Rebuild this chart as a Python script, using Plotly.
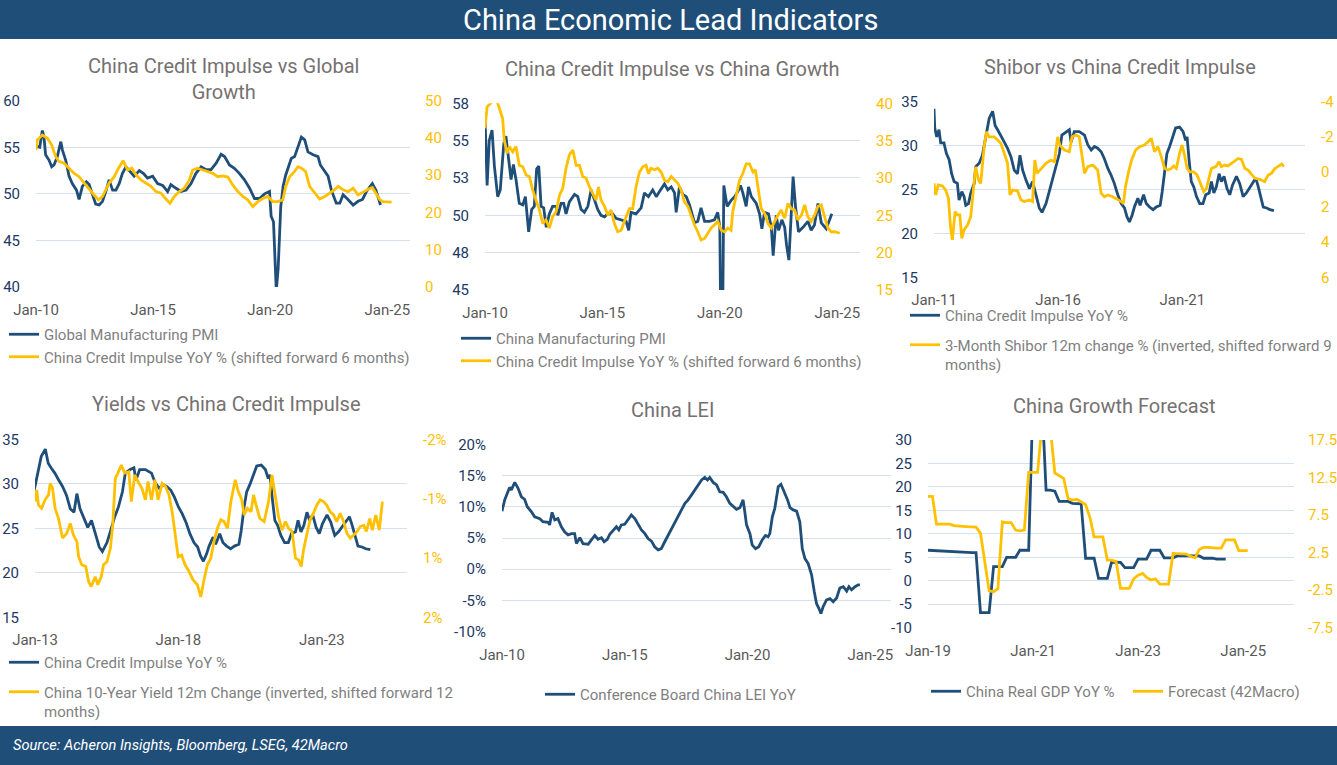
import pandas as pd
import plotly.graph_objects as go

# ---------------- DATA ----------------
# Panel 1: China Credit Impulse vs Global Growth
p1_pmi_t = [2010.0, 2010.16, 2010.27, 2010.34, 2010.41, 2010.56, 2010.67, 2010.77, 2010.91, 2011.06, 2011.13, 2011.27,
            2011.41, 2011.55, 2011.73, 2011.84, 2011.98, 2012.15, 2012.27, 2012.38, 2012.55, 2012.70, 2012.84, 2012.98,
            2013.12, 2013.27, 2013.41, 2013.55, 2013.69, 2013.84, 2014.01, 2014.19, 2014.41, 2014.58, 2014.76, 2014.98,
            2015.19, 2015.41, 2015.62, 2015.76, 2015.98, 2016.19, 2016.41, 2016.62, 2016.83, 2017.05, 2017.26, 2017.47,
            2017.69, 2017.90, 2018.05, 2018.26, 2018.47, 2018.68, 2018.90, 2019.12, 2019.33, 2019.54, 2019.76, 2019.97,
            2020.04, 2020.14, 2020.26, 2020.34, 2020.45, 2020.55, 2020.66, 2020.78, 2020.90, 2021.04, 2021.18, 2021.33,
            2021.47, 2021.61, 2021.83, 2022.04, 2022.14, 2022.33, 2022.47, 2022.61, 2022.82, 2022.97, 2023.11, 2023.32,
            2023.54, 2023.75, 2023.94, 2024.11, 2024.28, 2024.36, 2024.51, 2024.61, 2024.71]
p1_pmi_v = [55.1, 55.0, 56.8, 56.1, 54.2, 53.6, 52.9, 53.1, 54.0, 55.6, 54.7, 53.6,
            51.9, 51.1, 50.4, 49.4, 50.8, 51.3, 51.0, 50.1, 48.9, 48.8, 49.2, 50.25,
            51.5, 50.4, 50.4, 51.1, 52.2, 52.9, 52.4, 51.9, 52.5, 52.2, 51.7, 51.9,
            51.1, 50.9, 50.25, 51.0, 50.6, 50.25, 50.4, 51.1, 52.2, 52.9, 52.6, 52.6,
            53.3, 54.25, 54.0, 53.1, 52.75, 52.2, 51.5, 50.6, 49.5, 49.5, 50.0, 50.25,
            47.6, 47.0, 39.6, 42.0, 48.6, 50.8, 52.0, 52.9, 53.8, 54.0, 55.1, 56.1,
            55.8, 54.5, 54.2, 54.0, 53.1, 52.4, 51.9, 50.4, 49.0, 49.0, 49.9, 49.4,
            48.8, 49.2, 49.4, 50.25, 50.8, 51.1, 50.4, 49.7, 48.8]
p1_ci_t = [2010.0, 2010.06, 2010.27, 2010.49, 2010.67, 2010.84, 2010.98, 2011.2, 2011.41, 2011.63, 2011.84, 2012.05,
           2012.27, 2012.48, 2012.67, 2012.84, 2012.98, 2013.12, 2013.34, 2013.52, 2013.72, 2013.91, 2014.09, 2014.27,
           2014.48, 2014.69, 2014.91, 2015.12, 2015.34, 2015.55, 2015.72, 2015.91, 2016.12, 2016.33, 2016.55, 2016.69,
           2016.90, 2017.12, 2017.33, 2017.55, 2017.76, 2017.97, 2018.19, 2018.40, 2018.62, 2018.83, 2019.04, 2019.26,
           2019.47, 2019.69, 2019.90, 2020.11, 2020.33, 2020.54, 2020.66, 2020.83, 2021.04, 2021.18, 2021.33, 2021.51,
           2021.68, 2021.90, 2022.11, 2022.33, 2022.54, 2022.75, 2022.90, 2023.11, 2023.32, 2023.54, 2023.75, 2023.97,
           2024.18, 2024.36, 2024.54, 2024.68, 2024.82, 2024.99, 2025.18]
p1_ci_v = [36.8, 39.5, 40.8, 39.9, 38.1, 35.0, 33.7, 33.2, 31.9, 30.5, 29.6, 27.9,
           26.1, 24.7, 23.4, 24.3, 26.1, 27.9, 29.6, 31.9, 33.9, 31.4, 31.9, 30.1,
           28.75, 27.9, 27.0, 25.6, 25.2, 23.6, 22.5, 24.3, 25.6, 26.5, 28.75, 31.4,
           31.9, 31.4, 31.0, 30.5, 29.6, 29.8, 29.5, 27.4, 25.6, 24.3, 23.4, 21.6,
           22.9, 23.8, 24.3, 22.9, 22.9, 23.4, 27.0, 29.6, 31.0, 32.3, 31.9, 31.0,
           27.0, 25.2, 23.6, 24.3, 25.2, 26.1, 27.0, 26.1, 25.6, 26.5, 24.7, 25.6,
           26.25, 26.7, 24.7, 23.4, 22.9, 22.9, 22.8]

# Panel 2: China Credit Impulse vs China Growth
p2_pmi_t = [2010.0, 2010.09, 2010.18, 2010.30, 2010.40, 2010.54, 2010.65, 2010.80, 2010.89, 2010.99, 2011.11, 2011.21,
            2011.32, 2011.46, 2011.61, 2011.72, 2011.86, 2011.99, 2012.10, 2012.20, 2012.29, 2012.39, 2012.50, 2012.61,
            2012.74, 2012.88, 2013.03, 2013.10, 2013.24, 2013.35, 2013.45, 2013.59, 2013.81, 2013.95, 2014.09, 2014.23,
            2014.38, 2014.52, 2014.66, 2014.80, 2014.94, 2015.09, 2015.23, 2015.44, 2015.58, 2015.80, 2016.01, 2016.12,
            2016.22, 2016.43, 2016.65, 2016.79, 2016.96, 2017.14, 2017.29, 2017.43, 2017.64, 2017.78, 2017.93, 2018.07,
            2018.14, 2018.28, 2018.42, 2018.57, 2018.71, 2018.92, 2019.06, 2019.20, 2019.35, 2019.56, 2019.77, 2019.91,
            2020.0, 2020.08, 2020.17, 2020.31, 2020.48, 2020.63, 2020.77, 2020.88, 2020.98, 2021.12, 2021.22, 2021.34,
            2021.55, 2021.69, 2021.79, 2021.90, 2022.07, 2022.19, 2022.27, 2022.40, 2022.50, 2022.64, 2022.76, 2022.84,
            2022.94, 2023.04, 2023.12, 2023.22, 2023.35, 2023.54, 2023.75, 2023.89, 2024.03, 2024.18, 2024.32, 2024.53,
            2024.67, 2024.77]
p2_pmi_v = [56.6, 52.0, 55.0, 55.7, 53.3, 51.25, 51.7, 54.8, 55.3, 53.9, 52.4, 53.4,
            52.4, 50.8, 50.7, 51.25, 48.9, 50.4, 50.6, 53.1, 53.3, 50.6, 50.5, 49.2,
            50.1, 50.6, 50.6, 50.0, 50.8, 50.8, 50.1, 50.9, 51.4, 51.25, 50.4, 50.2,
            50.6, 51.7, 51.0, 50.4, 50.0, 49.9, 50.1, 50.1, 49.8, 49.7, 49.6, 49.0,
            50.2, 50.1, 50.5, 51.5, 51.25, 51.7, 51.25, 51.6, 52.1, 51.7, 51.9, 51.5,
            50.2, 51.9, 51.4, 51.25, 50.7, 49.5, 49.6, 50.5, 49.6, 49.6, 49.7, 50.2,
            49.2, 35.7, 52.0, 50.6, 51.0, 51.25, 51.6, 52.0, 51.5, 50.6, 51.9, 51.25,
            50.8, 50.1, 49.1, 50.2, 50.1, 49.2, 47.3, 50.0, 49.0, 49.7, 49.2, 48.0,
            47.0, 50.1, 52.6, 50.6, 48.9, 49.2, 49.6, 49.0, 49.35, 50.8, 49.5, 49.1,
            49.7, 50.1]
p2_ci_t = [2010.0, 2010.09, 2010.18, 2010.40, 2010.54, 2010.65, 2010.75, 2010.82, 2010.94, 2011.04, 2011.18, 2011.32,
           2011.46, 2011.61, 2011.75, 2011.89, 2012.03, 2012.17, 2012.32, 2012.46, 2012.60, 2012.74, 2012.88, 2013.03,
           2013.17, 2013.31, 2013.45, 2013.59, 2013.74, 2013.88, 2014.02, 2014.16, 2014.30, 2014.45, 2014.59, 2014.73,
           2014.83, 2014.94, 2015.09, 2015.23, 2015.37, 2015.51, 2015.65, 2015.80, 2016.01, 2016.15, 2016.29, 2016.43,
           2016.58, 2016.72, 2016.86, 2016.96, 2017.07, 2017.22, 2017.36, 2017.50, 2017.64, 2017.78, 2017.93, 2018.07,
           2018.21, 2018.35, 2018.49, 2018.64, 2018.78, 2018.92, 2019.06, 2019.20, 2019.35, 2019.49, 2019.63, 2019.77,
           2019.91, 2020.06, 2020.20, 2020.34, 2020.48, 2020.55, 2020.70, 2020.84, 2020.98, 2021.12, 2021.26, 2021.41,
           2021.51, 2021.62, 2021.76, 2021.90, 2022.05, 2022.19, 2022.33, 2022.47, 2022.61, 2022.76, 2022.90, 2023.04,
           2023.18, 2023.32, 2023.47, 2023.61, 2023.75, 2023.89, 2024.03, 2024.18, 2024.32, 2024.46, 2024.60, 2024.74,
           2024.89, 2025.10]
p2_ci_v = [36.65, 39.55, 39.8, 40.5, 40.0, 38.9, 38.0, 35.1, 33.3, 34.2, 33.5, 34.2,
           31.7, 31.5, 30.4, 30.2, 28.4, 27.05, 25.7, 23.9, 24.4, 23.3, 24.8, 25.5,
           27.7, 28.6, 31.3, 33.1, 33.75, 31.7, 31.7, 30.2, 30.0, 28.8, 27.9, 27.05,
           28.8, 27.05, 26.2, 25.0, 25.7, 23.9, 22.8, 23.0, 24.8, 25.9, 25.9, 28.8,
           30.8, 31.5, 31.7, 30.6, 31.3, 31.1, 31.3, 30.8, 29.7, 29.5, 30.2, 29.7,
           29.3, 28.4, 26.8, 26.2, 24.8, 23.7, 22.8, 21.7, 21.9, 22.6, 23.3, 23.7,
           24.2, 23.0, 22.8, 23.3, 23.0, 25.5, 27.9, 29.7, 30.6, 31.9, 31.9, 30.8,
           31.1, 28.8, 25.9, 25.3, 23.9, 23.3, 24.2, 25.0, 25.7, 24.6, 26.6, 25.9,
           25.7, 24.4, 25.0, 26.4, 24.8, 24.2, 25.0, 26.2, 26.4, 25.0, 23.3, 22.8,
           22.8, 22.6]

# Panel 3 / 4: China Credit Impulse YoY %
ci_t = [2011.0, 2011.03, 2011.11, 2011.2, 2011.27, 2011.4, 2011.5, 2011.61, 2011.71, 2011.81, 2011.94, 2012.01,
        2012.12, 2012.21, 2012.28, 2012.39, 2012.48, 2012.62, 2012.68, 2012.82, 2012.95, 2013.09, 2013.22, 2013.36,
        2013.46, 2013.56, 2013.69, 2013.83, 2013.96, 2014.10, 2014.23, 2014.36, 2014.46, 2014.57, 2014.70, 2014.84,
        2014.97, 2015.11, 2015.24, 2015.35, 2015.51, 2015.64, 2015.78, 2015.91, 2016.05, 2016.15, 2016.32, 2016.45,
        2016.52, 2016.65, 2016.85, 2017.06, 2017.19, 2017.33, 2017.46, 2017.59, 2017.73, 2017.86, 2018.0, 2018.13,
        2018.26, 2018.40, 2018.54, 2018.67, 2018.77, 2018.87, 2018.98, 2019.07, 2019.21, 2019.30, 2019.44, 2019.55,
        2019.68, 2019.82, 2019.95, 2020.11, 2020.19, 2020.29, 2020.38, 2020.49, 2020.62, 2020.73, 2020.89, 2021.03,
        2021.13, 2021.19, 2021.27, 2021.36, 2021.46, 2021.57, 2021.70, 2021.83, 2021.94, 2022.08, 2022.17, 2022.27,
        2022.37, 2022.48, 2022.57, 2022.68, 2022.80, 2022.91, 2023.02, 2023.18, 2023.31, 2023.45, 2023.58, 2023.79,
        2023.96, 2024.06, 2024.15, 2024.26, 2024.40, 2024.53, 2024.69]
ci_v = [34.2, 32.0, 31.0, 31.8, 30.3, 30.3, 29.1, 28.4, 26.8, 25.9, 25.7, 23.8,
        24.75, 24.2, 23.2, 23.4, 24.6, 25.7, 27.6, 28.0, 28.9, 31.2, 33.1, 33.9,
        32.3, 31.8, 31.2, 30.4, 29.7, 28.7, 27.2, 26.8, 28.9, 27.2, 26.1, 25.1,
        25.9, 24.2, 22.9, 22.4, 23.4, 24.75, 26.3, 27.4, 29.1, 31.2, 31.6, 31.8,
        30.4, 31.6, 31.6, 31.2, 30.1, 29.5, 29.9, 29.7, 29.3, 28.5, 27.4, 26.65,
        25.7, 24.4, 23.4, 22.9, 21.9, 21.3, 22.1, 23.0, 24.0, 23.2, 24.4, 23.4,
        23.0, 22.7, 23.0, 23.2, 24.75, 27.4, 29.1, 29.9, 31.0, 32.0, 32.1, 31.6,
        30.6, 31.0, 28.4, 25.9, 25.3, 24.2, 23.4, 23.4, 24.4, 24.6, 25.9, 24.6,
        25.3, 26.8, 25.9, 26.5, 25.1, 24.4, 25.5, 26.5, 25.7, 24.2, 24.6, 25.5,
        26.3, 25.3, 24.2, 23.0, 22.9, 22.7, 22.6]

# Panel 3: 3-Month Shibor 12m change (inverted, shifted forward 9 months)
shibor_t = [2011.0, 2011.07, 2011.17, 2011.34, 2011.47, 2011.58, 2011.67, 2011.74, 2011.85, 2011.94, 2012.04, 2012.12,
            2012.21, 2012.35, 2012.48, 2012.57, 2012.68, 2012.79, 2012.88, 2013.02, 2013.11, 2013.22, 2013.42, 2013.56,
            2013.69, 2013.83, 2013.96, 2014.06, 2014.16, 2014.36, 2014.50, 2014.63, 2014.84, 2014.97, 2015.06, 2015.15,
            2015.31, 2015.51, 2015.71, 2015.85, 2015.98, 2016.07, 2016.25, 2016.45, 2016.56, 2016.72, 2016.85, 2016.96,
            2017.06, 2017.19, 2017.39, 2017.59, 2017.73, 2017.86, 2018.0, 2018.20, 2018.40, 2018.54, 2018.63, 2018.71,
            2018.85, 2018.98, 2019.12, 2019.28, 2019.48, 2019.61, 2019.75, 2019.88, 2020.02, 2020.15, 2020.29, 2020.42,
            2020.56, 2020.65, 2020.76, 2020.89, 2020.99, 2021.09, 2021.19, 2021.30, 2021.46, 2021.59, 2021.73, 2021.86,
            2021.97, 2022.08, 2022.17, 2022.35, 2022.48, 2022.57, 2022.71, 2022.84, 2022.98, 2023.11, 2023.25, 2023.38,
            2023.52, 2023.65, 2023.79, 2023.92, 2024.12, 2024.32, 2024.46, 2024.59, 2024.73, 2024.86, 2025.0, 2025.09]
shibor_v = [0.65, 1.31, 0.74, 0.8, 1.03, 1.5, 3.2, 3.87, 2.26, 2.45, 2.45, 3.78,
            3.3, 3.02, 2.55, 1.41, -0.3, 0.46, 0.65, -1.44, -2.29, -2.0, -2.0, -1.82,
            -1.63, -1.06, -0.49, 1.31, 1.03, 1.07, 1.6, 1.69, 1.6, 1.69, -0.68, 0.08,
            -0.2, -0.49, -0.68, -0.58, -2.0, -1.53, -1.25, -1.15, -2.0, -2.1, -2.0, -0.87,
            0.08, -0.3, -0.39, -0.11, 1.22, 1.41, 1.31, 1.41, 1.56, 1.69, 1.79, 0.84,
            -0.11, -0.77, -1.25, -1.44, -1.53, -1.72, -1.91, -1.15, -1.44, -0.87, -0.2, -0.11,
            -0.2, -0.34, -0.2, -1.06, -1.53, -0.96, -0.2, 0.0, 0.0, 0.17, 0.65, 1.12,
            0.93, 0.27, -0.2, -0.3, -0.58, -0.3, -0.39, -0.34, -0.49, -0.58, -0.77, -0.72,
            -0.2, -0.11, 0.17, 0.36, 0.42, 0.55, 0.17, 0.08, -0.2, -0.34, -0.45, -0.3]

# Panel 4: China 10-Year Yield 12m change (inverted, shifted forward 12 months)
cgb_t = [2013.0, 2013.06, 2013.12, 2013.23, 2013.35, 2013.47, 2013.53, 2013.61, 2013.7, 2013.82, 2013.96, 2014.11,
         2014.23, 2014.34, 2014.46, 2014.52, 2014.63, 2014.77, 2014.87, 2014.96, 2015.1, 2015.19, 2015.31, 2015.39,
         2015.51, 2015.63, 2015.71, 2015.8, 2015.89, 2016.01, 2016.13, 2016.27, 2016.36, 2016.48, 2016.59, 2016.73,
         2016.85, 2016.94, 2017.06, 2017.18, 2017.29, 2017.43, 2017.55, 2017.67, 2017.78, 2017.9, 2017.99, 2018.11,
         2018.23, 2018.37, 2018.51, 2018.66, 2018.78, 2018.89, 2019.01, 2019.13, 2019.24, 2019.36, 2019.48, 2019.59,
         2019.71, 2019.83, 2019.98, 2020.09, 2020.21, 2020.29, 2020.41, 2020.53, 2020.62, 2020.72, 2020.84, 2020.99,
         2021.14, 2021.26, 2021.38, 2021.49, 2021.61, 2021.73, 2021.84, 2021.96, 2022.08, 2022.19, 2022.28, 2022.36,
         2022.47, 2022.59, 2022.71, 2022.82, 2022.94, 2023.06, 2023.17, 2023.29, 2023.41, 2023.52, 2023.64, 2023.76,
         2023.87, 2023.99, 2024.11, 2024.23, 2024.34, 2024.46, 2024.55, 2024.67, 2024.76, 2024.88, 2025.0, 2025.11]
cgb_v = [-0.6, -0.86, -0.52, -0.45, -0.64, -0.75, -1.01, -0.9, -0.45, -0.22, 0.22, 0.11,
         -0.11, 0.15, 0.3, 0.64, 0.82, 0.86, 1.2, 1.31, 1.09, 1.27, 1.09, 0.82,
         0.75, 0.45, -0.07, -1.12, -1.24, -1.42, -1.24, -1.27, -0.6, -1.2, -1.05, -0.9,
         -0.64, -1.05, -0.64, -1.09, -0.64, -1.01, -0.94, -0.75, -0.37, 0.15, 0.64, 0.6,
         0.82, 0.97, 1.16, 1.27, 1.54, 1.16, 0.82, 0.67, 0.3, 0.0, -0.19, -0.15,
         0.0, -0.6, -1.09, -0.82, -0.64, -0.3, -0.45, -0.37, -0.75, -0.49, -0.22, -0.15,
         -0.6, -1.2, -0.75, -0.26, 0.04, -0.15, 0.0, 0.07, 0.67, 0.71, 0.86, 0.49,
         0.15, -0.19, -0.34, -0.52, -0.64, -0.6, -0.52, -0.37, -0.3, -0.15, -0.34, -0.15,
         0.11, 0.22, 0.15, 0.07, -0.04, -0.07, 0.07, -0.22, 0.04, -0.3, 0.04, -0.6]

# Panel 5: Conference Board China LEI YoY (%)
lei_t = [2010.0, 2010.11, 2010.24, 2010.31, 2010.38, 2010.52, 2010.65, 2010.79, 2010.92, 2011.03, 2011.20, 2011.33,
         2011.54, 2011.67, 2011.88, 2011.94, 2012.04, 2012.15, 2012.28, 2012.42, 2012.55, 2012.69, 2012.83, 2012.96,
         2013.03, 2013.17, 2013.30, 2013.51, 2013.64, 2013.78, 2013.91, 2014.05, 2014.16, 2014.29, 2014.39, 2014.52,
         2014.66, 2014.76, 2014.86, 2015.0, 2015.14, 2015.27, 2015.41, 2015.54, 2015.68, 2015.82, 2015.95, 2016.09,
         2016.22, 2016.36, 2016.49, 2016.63, 2016.77, 2016.90, 2017.04, 2017.17, 2017.31, 2017.45, 2017.58, 2017.72,
         2017.85, 2017.99, 2018.13, 2018.26, 2018.37, 2018.46, 2018.60, 2018.74, 2018.87, 2019.01, 2019.14, 2019.28,
         2019.42, 2019.55, 2019.69, 2019.82, 2019.89, 2019.96, 2020.10, 2020.19, 2020.33, 2020.46, 2020.60, 2020.73,
         2020.84, 2020.91, 2021.01, 2021.11, 2021.25, 2021.36, 2021.49, 2021.63, 2021.73, 2021.86, 2022.0, 2022.13,
         2022.23, 2022.34, 2022.47, 2022.61, 2022.72, 2022.81, 2022.91, 2022.99, 2023.08, 2023.22, 2023.36, 2023.49,
         2023.63, 2023.76, 2023.90, 2024.04, 2024.13, 2024.24, 2024.38, 2024.51, 2024.58]
lei_v = [9.3, 11.1, 12.4, 13.1, 12.7, 13.9, 13.0, 11.6, 11.2, 10.0, 9.2, 8.4,
         8.1, 7.6, 7.5, 7.1, 9.1, 7.9, 8.1, 6.8, 6.0, 5.5, 5.7, 5.7,
         4.1, 5.05, 4.1, 4.0, 4.7, 5.4, 4.8, 5.05, 4.4, 4.8, 5.6, 6.1,
         6.8, 6.3, 7.1, 7.2, 7.9, 8.7, 8.1, 7.3, 6.3, 5.7, 4.9, 4.5,
         3.6, 3.1, 3.3, 4.4, 5.5, 6.5, 7.6, 8.4, 9.5, 10.55, 11.1, 11.9,
         12.7, 13.5, 14.3, 14.7, 14.3, 14.7, 13.9, 13.5, 12.4, 12.3, 11.6, 10.55,
         10.0, 9.6, 9.85, 11.1, 9.2, 7.1, 5.7, 3.9, 3.3, 3.6, 4.7, 5.4,
         5.2, 5.7, 8.4, 9.75, 13.2, 13.6, 12.4, 11.1, 9.85, 9.5, 9.3, 7.6,
         3.3, 1.7, 0.9, -0.9, -3.6, -5.5, -6.3, -7.1, -6.0, -4.9, -4.7, -5.2,
         -4.6, -3.0, -2.8, -3.5, -2.8, -3.3, -2.8, -2.5, -2.5]

# Panel 6: China Growth Forecast (monthly from Jan-2019)
gdp_start = "2019-01-01"
gdp_v = [6.5, 6.45, 6.4, 6.3, 6.2, 6.1, 6.05, 6.0, 6.0, 6.0, 6.0, 6.0,
         -6.8, -6.8, -6.8, 3.0, 3.0, 3.0, 5.0, 5.0, 5.0, 6.5, 6.5, 6.5,
         40.0, 40.0, 40.0, 19.3, 19.3, 19.1, 16.9, 16.9, 16.9, 16.5, 16.4, 16.4,
         4.8, 4.8, 4.8, 0.5, 0.5, 0.5, 4.0, 4.0, 3.9, 2.8, 2.8, 2.8,
         4.6, 4.6, 4.6, 6.5, 6.5, 6.5, 4.9, 4.9, 4.9, 5.3, 5.3, 5.3,
         5.4, 5.35, 5.3, 4.8, 4.8, 4.8, 4.6, 4.6, 4.6]
fcst_v = [10.0, 10.0, 6.3, 6.3, 6.3, 6.3, 6.1, 6.1, 6.0, 5.95, 5.95, 5.9,
          5.1, 1.2, -2.6, -2.7, -2.3, 6.6, 6.5, 6.5, 5.5, 5.4, 5.5, 13.2,
          13.2, 13.2, 19.0, 19.0, 19.0, 13.1, 12.8, 12.4, 9.7, 9.5, 9.6, 9.2,
          8.9, 7.1, 4.6, 4.6, 4.6, 1.5, 1.5, 1.3, -2.25, -2.25, -2.25, -1.0,
          -0.5, -0.26, -0.8, -1.15, -1.0, -1.7, -1.7, -1.7, 2.4, 2.4, 2.4, 2.3,
          2.0, 1.8, 2.9, 3.2, 3.2, 3.1, 3.1, 3.1, 4.2, 4.2, 4.2, 2.76,
          2.76, 2.76]

# Tick labels
p2_left_ticks = [45, 47.5, 50, 52.5, 55, 57.5]
p2_left_text = ["45", "48", "50", "53", "55", "58"]
p3_right_ticks = [-4, -2, 0, 2, 4, 6]
p3_right_text = ["-4", "-2", "0", "2", "4", "6"]
p4_right_ticks = [-2, -2 / 3, 2 / 3, 2]
p4_right_text = ["-2%", "-1%", "1%", "2%"]
p5_ticks = [-10, -5, 0, 5, 10, 15, 20]
p5_text = ["-10%", "-5%", "0%", "5%", "10%", "15%", "20%"]
p6_left_ticks = [-10, -5, 0, 5, 10, 15, 20, 25, 30]
p6_left_text = ["-10", "-5", "0", "5", "10", "15", "20", "25", "30"]
p6_right_ticks = [-7.5, -2.5, 2.5, 7.5, 12.5, 17.5]
p6_right_text = ["-7.5", "-2.5", "2.5", "7.5", "12.5", "17.5"]

# ---------------- STYLE ----------------
NAVY = "#1F4E79"
GOLD = "#FFC000"
GRID = "#D3E1F0"
FONT = "Roboto"
W, H = 1337, 765
LW = 2.8


def to_dates(years):
    out = []
    for v in years:
        y = int(round(v, 6) // 1)
        frac = v - y
        out.append(pd.Timestamp(year=y, month=1, day=1) + pd.Timedelta(days=frac * 365.25))
    return out


def px_x(p):
    return p / W


def px_y(p):
    return 1 - p / H


fig = go.Figure()


def add_line(x, y, name, color, xa, ya, leg, grp):
    fig.add_trace(go.Scatter(x=x, y=y, name=name, mode="lines", line=dict(color=color, width=LW),
                             xaxis=xa, yaxis=ya, legend=leg, legendgroup=grp))


add_line(to_dates(p1_pmi_t), p1_pmi_v, "Global Manufacturing PMI", NAVY, "x", "y", "legend", "a1")
add_line(to_dates(p1_ci_t), p1_ci_v, "China Credit Impulse YoY % (shifted forward 6 months)", GOLD,
         "x", "y2", "legend", "b1")

add_line(to_dates(p2_pmi_t), p2_pmi_v, "China Manufacturing PMI", NAVY, "x2", "y3", "legend2", "a2")
add_line(to_dates(p2_ci_t), p2_ci_v, "China Credit Impulse YoY % (shifted forward 6 months)", GOLD,
         "x2", "y4", "legend2", "b2")

add_line(to_dates(ci_t), ci_v, "China Credit Impulse YoY %", NAVY, "x3", "y5", "legend3", "a3")
add_line(to_dates(shibor_t), shibor_v, "3-Month Shibor 12m change % (inverted, shifted forward 9<br>months)",
         GOLD, "x3", "y6", "legend3", "b3")

p4_t = [t for t in ci_t if t >= 2012.95]
p4_v = [v for t, v in zip(ci_t, ci_v) if t >= 2012.95]
add_line(to_dates(p4_t), p4_v, "China Credit Impulse YoY %", NAVY, "x4", "y7", "legend4", "a4")
add_line(to_dates(cgb_t), cgb_v, "China 10-Year Yield 12m Change (inverted, shifted forward 12<br>months)",
         GOLD, "x4", "y8", "legend4", "b4")

add_line(to_dates(lei_t), lei_v, "Conference Board China LEI YoY", NAVY, "x5", "y9", "legend5", "a5")

gdp_dates = pd.date_range(gdp_start, periods=len(gdp_v), freq="MS")
fcst_dates = pd.date_range(gdp_start, periods=len(fcst_v), freq="MS")
add_line(gdp_dates, gdp_v, "China Real GDP YoY %", NAVY, "x6", "y10", "legend6", "a6")
add_line(fcst_dates, fcst_v, "Forecast (42Macro)", GOLD, "x6", "y11", "legend6", "b6")

# axes
tickfont_x = dict(family=FONT, size=15, color="#595959")
tickfont_l = dict(family=FONT, size=15, color="#203864")
tickfont_r = dict(family=FONT, size=15, color=GOLD)

panels = [
    ("xaxis", "yaxis", "yaxis2", (36, 410), (100.7, 287), ("2010-01-01", "2025-12-20"), "2010-01-01", "M60", 14),
    ("xaxis2", "yaxis3", "yaxis4", (485, 860), (103.3, 290), ("2010-01-01", "2025-12-20"), "2010-01-01", "M60", 15),
    ("xaxis3", "yaxis5", "yaxis6", (934, 1305), (101.7, 277.3), ("2011-01-01", "2025-12-10"), "2011-01-01", "M60", 15),
    ("xaxis4", "yaxis7", "yaxis8", (35, 407), (439.3, 617.3), ("2013-01-01", "2025-12-20"), "2013-01-01", "M60", 15),
    ("xaxis5", "yaxis9", None, (502, 891), (444.3, 631.7), ("2010-01-01", "2025-11-05"), "2010-01-01", "M60", 0),
    ("xaxis6", "yaxis10", "yaxis11", (928, 1294), (440, 627.7), ("2019-01-01", "2025-12-20"), "2019-01-01", "M24", 13),
]

left_cfg = {
    "yaxis": dict(range=[40, 60], dtick=5),
    "yaxis3": dict(range=[45, 57.5], tickvals=p2_left_ticks, ticktext=p2_left_text),
    "yaxis5": dict(range=[15, 35], dtick=5),
    "yaxis7": dict(range=[15, 35], dtick=5),
    "yaxis9": dict(range=[-10, 20], tickvals=p5_ticks, ticktext=p5_text),
    "yaxis10": dict(range=[-10, 30], tickvals=p6_left_ticks, ticktext=p6_left_text),
}
right_cfg = {
    "yaxis2": dict(range=[0, 50], dtick=10),
    "yaxis4": dict(range=[15, 40], dtick=5),
    "yaxis6": dict(range=[6, -4], tickvals=p3_right_ticks, ticktext=p3_right_text),
    "yaxis8": dict(range=[2, -2], tickvals=p4_right_ticks, ticktext=p4_right_text),
    "yaxis11": dict(range=[-7.5, 17.5], tickvals=p6_right_ticks, ticktext=p6_right_text),
}

layout = {}
for xk, ylk, yrk, (x0, x1), (yt, yb), xr, t0, dt, rso in panels:
    xs = xk.replace("axis", "")
    ys_l = ylk.replace("axis", "")
    layout[xk] = dict(domain=[px_x(x0), px_x(x1)], anchor=ys_l, type="date", range=list(xr),
                      tick0=t0, dtick=dt, tickformat="%b-%y", showgrid=False, zeroline=False,
                      showline=False, ticks="", tickfont=tickfont_x, ticklabelstandoff=12,
                      fixedrange=True, automargin=False)
    layout[ylk] = dict(domain=[px_y(yb), px_y(yt)], anchor=xs, showgrid=True, gridcolor=GRID,
                       gridwidth=1, zeroline=False, showline=False, ticks="", tickfont=tickfont_l,
                       ticklabelstandoff=15, fixedrange=True, automargin=False, **left_cfg[ylk])
    if yrk:
        layout[yrk] = dict(overlaying=ys_l, side="right", anchor=xs, showgrid=False, zeroline=False,
                           showline=False, ticks="", tickfont=tickfont_r, ticklabelstandoff=rso,
                           fixedrange=True, automargin=False, **right_cfg[yrk])

legend_font = dict(family=FONT, size=15, color="#7F7F7F")
leg_common = dict(xanchor="left", yanchor="top", bgcolor="rgba(0,0,0,0)", font=legend_font,
                  valign="top", itemclick=False, itemdoubleclick=False)
layout["legend"] = dict(x=px_x(4), y=px_y(318), orientation="v", traceorder="normal", **leg_common)
layout["legend2"] = dict(x=px_x(456), y=px_y(322), orientation="v", traceorder="normal", **leg_common)
layout["legend3"] = dict(x=px_x(905), y=px_y(299), orientation="v", traceorder="grouped", tracegroupgap=7,
                         **leg_common)
layout["legend4"] = dict(x=px_x(4), y=px_y(646), orientation="v", traceorder="grouped", tracegroupgap=7,
                         **leg_common)
layout["legend5"] = dict(x=px_x(540), y=px_y(678), orientation="v", traceorder="normal", **leg_common)
layout["legend6"] = dict(x=px_x(926), y=px_y(675), orientation="h", entrywidth=157, traceorder="normal",
                         **leg_common)

title_font = dict(family=FONT, size=20, color="#767171")
annotations = [
    dict(text="China Economic Lead Indicators", x=px_x(670), y=px_y(20), xref="paper", yref="paper",
         showarrow=False, xanchor="center", yanchor="middle", font=dict(family=FONT, size=29, color="white")),
    dict(text="<i>Source: Acheron Insights, Bloomberg, LSEG, 42Macro</i>", x=px_x(11), y=px_y(745),
         xref="paper", yref="paper", showarrow=False, xanchor="left", yanchor="middle",
         font=dict(family=FONT, size=14.6, color="white")),
    dict(text="China Credit Impulse vs Global<br>Growth", x=px_x(223), y=px_y(79), xref="paper", yref="paper",
         showarrow=False, xanchor="center", yanchor="middle", font=title_font),
    dict(text="China Credit Impulse vs China Growth", x=px_x(673), y=px_y(69), xref="paper", yref="paper",
         showarrow=False, xanchor="center", yanchor="middle", font=title_font),
    dict(text="Shibor vs China Credit Impulse", x=px_x(1120), y=px_y(67), xref="paper", yref="paper",
         showarrow=False, xanchor="center", yanchor="middle", font=title_font),
    dict(text="Yields vs China Credit Impulse", x=px_x(226), y=px_y(404), xref="paper", yref="paper",
         showarrow=False, xanchor="center", yanchor="middle", font=title_font),
    dict(text="China LEI", x=px_x(673), y=px_y(410), xref="paper", yref="paper",
         showarrow=False, xanchor="center", yanchor="middle", font=title_font),
    dict(text="China Growth Forecast", x=px_x(1114), y=px_y(406), xref="paper", yref="paper",
         showarrow=False, xanchor="center", yanchor="middle", font=title_font),
]

shapes = [
    dict(type="rect", xref="paper", yref="paper", x0=0, x1=1, y0=px_y(39), y1=1,
         fillcolor=NAVY, line=dict(width=0), layer="below"),
    dict(type="rect", xref="paper", yref="paper", x0=0, x1=1, y0=0, y1=px_y(726),
         fillcolor=NAVY, line=dict(width=0), layer="below"),
]

fig.update_layout(
    width=W, height=H, autosize=False,
    margin=dict(l=0, r=0, t=0, b=0, pad=0, autoexpand=False),
    paper_bgcolor="white", plot_bgcolor="white",
    font=dict(family=FONT, color="#595959"),
    showlegend=True,
    annotations=annotations, shapes=shapes,
    hovermode=False,
    **layout,
)

fig.write_html("out.html", config={"displayModeBar": False},
               post_script="document.body.style.margin='0';document.body.style.overflow='hidden';")
